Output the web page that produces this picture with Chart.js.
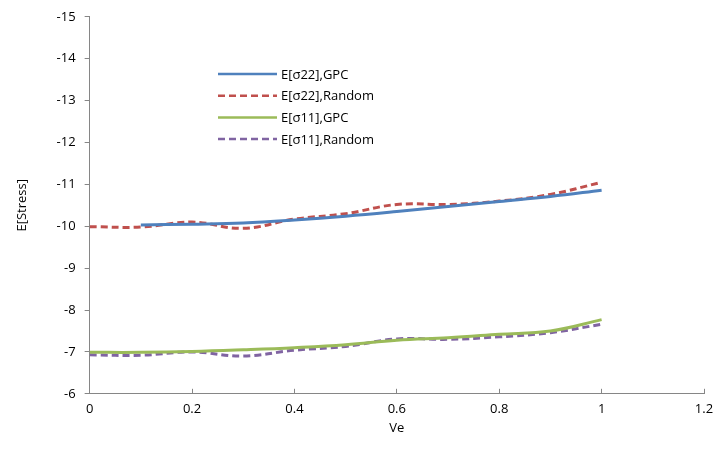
<!DOCTYPE html>
<html>
<head>
<meta charset="utf-8">
<script src="https://cdn.jsdelivr.net/npm/chart.js@4.4.1/dist/chart.umd.min.js"></script>
<style>
  html, body { margin: 0; padding: 0; background: #fff; }
  #wrap { width: 719px; height: 460px; position: relative; }
</style>
</head>
<body>
<div id="wrap"><canvas id="stressChart"></canvas></div>
<script>
// valores
const veGpc22 = [0.1, 0.2, 0.3, 0.4, 0.5, 0.6, 0.7, 0.8, 0.9, 1.0];
const veAll = [0, 0.1, 0.2, 0.3, 0.4, 0.5, 0.6, 0.7, 0.8, 0.9, 1.0];
const s22Gpc = [-10.03, -10.05, -10.08, -10.15, -10.24, -10.35, -10.47, -10.59, -10.71, -10.86];
const s22Random = [-9.99, -9.98, -10.1, -9.95, -10.17, -10.3, -10.52, -10.52, -10.6, -10.76, -11.05];
const s11Gpc = [-6.99, -6.99, -7.01, -7.05, -7.1, -7.17, -7.28, -7.34, -7.42, -7.5, -7.77];
const s11Random = [-6.93, -6.92, -7.0, -6.9, -7.04, -7.13, -7.31, -7.3, -7.36, -7.46, -7.66];
const seriesNames = ['E[σ22],GPC', 'E[σ22],Random', 'E[σ11],GPC', 'E[σ11],Random'];

const FONT = '"Open Sans", "Liberation Sans", sans-serif';
const axisGray = '#868686';

function toPoints(xs, ys) {
    return xs.map((x, i) => ({ x: x, y: ys[i] }));
}

// leyenda dentro del area del grafico
const insideLegend = {
    id: 'insideLegend',
    afterDatasetsDraw(chart) {
        const ctx = chart.ctx;
        const x0 = 218, y0 = 74, rowH = 21.7;
        ctx.save();
        chart.data.datasets.forEach((ds, i) => {
            const y = y0 + i * rowH;
            ctx.beginPath();
            ctx.strokeStyle = ds.borderColor;
            ctx.lineWidth = 2.5;
            ctx.setLineDash(ds.borderDash || []);
            ctx.moveTo(x0, y);
            ctx.lineTo(x0 + 59, y);
            ctx.stroke();
            ctx.setLineDash([]);
            ctx.fillStyle = '#000';
            ctx.font = '13px ' + FONT;
            ctx.textBaseline = 'middle';
            ctx.fillText(ds.label, x0 + 63, y + 1);
        });
        ctx.restore();
    }
};

function setupChart() {
    const ctx = document.getElementById('stressChart');
    new Chart(ctx, {
        type: 'line',
        data: {
            datasets: [
                {
                    label: seriesNames[0],
                    data: toPoints(veGpc22, s22Gpc),
                    borderColor: '#4F81BD',
                    borderWidth: 3
                },
                {
                    label: seriesNames[1],
                    data: toPoints(veAll, s22Random),
                    borderColor: '#C0504D',
                    borderWidth: 3,
                    borderDash: [7, 4]
                },
                {
                    label: seriesNames[2],
                    data: toPoints(veAll, s11Gpc),
                    borderColor: '#9BBB59',
                    borderWidth: 3
                },
                {
                    label: seriesNames[3],
                    data: toPoints(veAll, s11Random),
                    borderColor: '#8064A2',
                    borderWidth: 3,
                    borderDash: [7, 4]
                }
            ]
        },
        options: {
            responsive: true,
            maintainAspectRatio: false,
            animation: false,
            layout: {
                padding: { top: 8, right: 0, bottom: 24, left: 10 }
            },
            elements: {
                point: { radius: 0 },
                line: { tension: 0.4, fill: false }
            },
            plugins: {
                legend: { display: false },
                tooltip: { enabled: false }
            },
            scales: {
                x: {
                    type: 'linear',
                    min: 0,
                    max: 1.2,
                    afterFit: scale => { scale.paddingRight = 15; },
                    ticks: {
                        stepSize: 0.2,
                        color: '#000',
                        font: { family: FONT, size: 13 },
                        padding: 13,
                        callback: v => String(+v.toFixed(1))
                    },
                    grid: {
                        drawOnChartArea: false,
                        color: axisGray,
                        tickLength: -5
                    },
                    border: { color: axisGray, width: 1 },
                    title: {
                        display: true,
                        text: 'Ve',
                        color: '#000',
                        font: { family: FONT, size: 13 },
                        padding: { top: -10, bottom: 0 }
                    }
                },
                y: {
                    min: -15,
                    max: -6,
                    reverse: true,
                    ticks: {
                        stepSize: 1,
                        color: '#000',
                        font: { family: FONT, size: 13 },
                        padding: 9
                    },
                    grid: {
                        drawOnChartArea: false,
                        color: axisGray,
                        tickLength: 5
                    },
                    border: { color: axisGray, width: 1 },
                    title: {
                        display: true,
                        text: 'E[Stress]',
                        color: '#000',
                        font: { family: FONT, size: 13 },
                        padding: { bottom: 18 }
                    }
                }
            }
        },
        plugins: [insideLegend]
    });
}

document.addEventListener('DOMContentLoaded', setupChart);
</script>
</body>
</html>
